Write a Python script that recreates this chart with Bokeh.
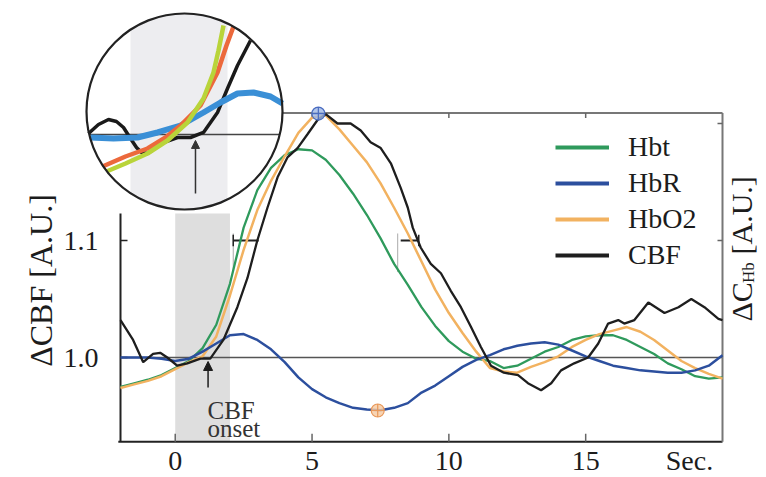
import numpy as np
from bokeh.plotting import figure
from bokeh.models import Range1d, Legend, LegendItem, Label, Arrow, NormalHead
from bokeh.core.properties import value
from bokeh.embed import file_html
from bokeh.resources import INLINE

# ---------------- data ----------------
time_s = [-2.0, -1.5, -1.0, -0.5, 0.0, 0.5, 1.0, 1.5, 2.0, 2.5, 3.0, 3.5, 4.0, 4.5,
          5.0, 5.5, 6.0, 6.5, 7.0, 7.5, 8.0, 8.5, 9.0, 9.5, 10.0, 10.5, 11.0, 11.5,
          12.0, 12.5, 13.0, 13.5, 14.0, 14.5, 15.0, 15.5, 16.0, 16.5, 17.0, 17.5,
          18.0, 18.5, 19.0, 19.5, 20.0]
hbt = [0.975, 0.978, 0.981, 0.985, 0.991, 0.997, 1.008, 1.028, 1.063, 1.111, 1.143,
       1.162, 1.173, 1.178, 1.177, 1.169, 1.156, 1.140, 1.122, 1.102, 1.080, 1.062,
       1.043, 1.027, 1.014, 1.005, 0.999, 0.997, 0.991, 0.993, 0.999, 1.005, 1.009,
       1.015, 1.018, 1.019, 1.019, 1.015, 1.009, 1.003, 0.995, 0.990, 0.984, 0.982,
       0.983]
hbr = [1.000, 1.000, 1.000, 0.999, 0.997, 0.999, 1.005, 1.012, 1.019, 1.020, 1.015,
       1.007, 0.996, 0.983, 0.973, 0.966, 0.961, 0.957, 0.9555, 0.955, 0.957, 0.961,
       0.970, 0.976, 0.984, 0.992, 0.998, 1.002, 1.007, 1.010, 1.012, 1.013, 1.011,
       1.006, 1.001, 0.997, 0.993, 0.991, 0.989, 0.988, 0.987, 0.987, 0.989, 0.993,
       1.002]
hbo2 = [0.974, 0.977, 0.980, 0.984, 0.990, 0.996, 1.001, 1.018, 1.053, 1.092, 1.126,
        1.151, 1.172, 1.192, 1.205, 1.207, 1.195, 1.181, 1.167, 1.149, 1.128, 1.106,
        1.082, 1.058, 1.038, 1.021, 1.005, 0.991, 0.988, 0.987, 0.992, 0.996, 1.001,
        1.009, 1.015, 1.020, 1.023, 1.026, 1.022, 1.015, 1.006, 0.997, 0.991, 0.986,
        0.982]
cbf_time = [-2.0, -1.54, -1.17, -0.81, -0.55, -0.29, 0.07, 0.44, 0.92, 1.28, 1.76,
            2.27, 2.64, 3.0, 3.37, 3.74, 4.1, 4.47, 4.84, 5.2, 5.5, 5.93, 6.41, 6.78,
            7.14, 7.51, 7.88, 8.24, 8.5, 8.68, 8.97, 9.34, 9.71, 10.07, 10.44, 10.81,
            11.17, 11.54, 12.01, 12.53, 12.89, 13.37, 13.74, 14.1, 14.58, 15.09,
            15.46, 15.82, 16.19, 16.41, 16.78, 17.29, 17.88, 18.39, 18.86, 19.34,
            19.85, 20.0]
cbf = [1.032, 1.015, 0.996, 1.003, 1.004, 1.000, 0.993, 0.995, 0.999, 0.999, 1.015,
       1.043, 1.068, 1.100, 1.128, 1.154, 1.171, 1.179, 1.191, 1.203, 1.208, 1.200,
       1.200, 1.194, 1.184, 1.179, 1.166, 1.145, 1.128, 1.111, 1.094, 1.080, 1.072,
       1.057, 1.043, 1.026, 1.009, 0.993, 0.987, 0.985, 0.978, 0.972, 0.978, 0.989,
       0.995, 1.000, 1.012, 1.029, 1.032, 1.029, 1.032, 1.047, 1.038, 1.043, 1.050,
       1.043, 1.033, 1.032]

stim_window = [0.0, 2.0]
onset_time = 1.2
hbo2_peak_t, hbo2_peak_v = [5.23], [1.2085]
hbr_trough_t, hbr_trough_v = [7.4], [0.9547]
half_level = 1.1
half_rise = [2.12, 3.05]
half_fall = [8.24, 8.90]
half_guides = [2.12, 8.13]

x_ticks = [0, 5, 10, 15]
x_tick_labels = ["0", "5", "10", "15"]
y_ticks = [1.0, 1.1]
y_tick_labels = ["1.0", "1.1"]
right_ticks = [1.1, 1.2]
top_ticks = [5, 10, 15]
series_names = ["Hbt", "HbR", "HbO2", "CBF"]

# magnified inset of the onset window (same units: s, ratio)
inset_hbt_t = [-0.495, -0.103, 0.351, 0.763, 1.175, 1.505, 1.711, 1.814, 1.918]
inset_hbt = [0.98195, 0.98585, 0.99073, 0.99707, 1.00585, 1.01756, 1.03024, 1.04098, 1.05317]
inset_hbo2_t = [-0.577, -0.103, 0.351, 0.722, 1.031, 1.443, 1.794, 1.979, 2.124]
inset_hbo2 = [0.98439, 0.98927, 0.99317, 0.99854, 1.00439, 1.01415, 1.03024, 1.04341, 1.05268]
inset_hbr_t = [-0.825, -0.351, 0.144, 0.557, 1.031, 1.505, 1.856, 2.206, 2.536, 2.887, 3.134]
inset_hbr = [0.99854, 0.99805, 0.99854, 1.00098, 1.00439, 1.01073, 1.01561, 1.02, 1.02049, 1.01854, 1.01512]
inset_cbf_t = [-0.866, -0.66, -0.454, -0.289, -0.144, 0.0, 0.124, 0.227, 0.351, 0.68,
               0.969, 1.237, 1.505, 1.794, 2.0, 2.206, 2.474]
inset_cbf = [1.00049, 1.00488, 1.00732, 1.00634, 1.00341, 0.99805, 0.99366, 0.99122,
             0.99073, 0.9961, 0.99854, 0.99854, 1.00098, 1.01073, 1.02244, 1.03366, 1.04585]
inset_onset = 1.34

# ---------------- layout geometry ----------------
W, H = 766, 477
X_MIN, X_MAX = -2.0, 20.0
Y_MIN, Y_MAX = 0.928, 1.209
FX0, FX1 = 120.0, 722.0
PX_S = (FX1 - FX0) / (X_MAX - X_MIN)
PX_U = 1170.0
Y1_PX = 357.0
SPINE_TOP = 1.123

IPX_S, IPX_U = 48.5, 2050.0
I0X, I1Y = 130.0, 134.0
C_PX, C_PY, R_PX = 184.0, 111.0, 98.0

FONT = "Liberation Serif"
INK = "#1c1c1c"
C_HBT, C_HBR, C_HBO2, C_CBF = "#2f9a5c", "#2c4f9e", "#f2b260", "#1e1e1e"


def sx(px):
    return X_MIN + (px - FX0) / PX_S


def sy(py):
    return 1 + (Y1_PX - py) / PX_U


p = figure(width=W, height=H,
           x_range=Range1d(X_MIN - FX0 / PX_S, X_MAX + (W - FX1) / PX_S),
           y_range=Range1d(1 - (H - Y1_PX) / PX_U, 1 + Y1_PX / PX_U),
           x_axis_type=None, y_axis_type=None, output_backend="svg",
           toolbar_location=None, min_border=0, outline_line_color=None)
p.extra_x_ranges = {"ix": Range1d(-I0X / IPX_S, (W - I0X) / IPX_S)}
p.extra_y_ranges = {"iy": Range1d(1 - (H - I1Y) / IPX_U, 1 + I1Y / IPX_U)}

# stimulus band
p.quad(left=[stim_window[0]], right=[stim_window[1]], bottom=[Y_MIN], top=[SPINE_TOP],
       fill_color="#dedede", line_color=None)

# frame
p.segment(x0=[X_MIN], y0=[1.0], x1=[X_MAX], y1=[1.0], line_color="#555555", line_width=1.5)
p.segment(x0=[X_MIN - 0.08], y0=[Y_MIN], x1=[X_MAX], y1=[Y_MIN], line_color="#222222", line_width=2)
p.segment(x0=[X_MIN], y0=[Y_MIN], x1=[X_MIN], y1=[SPINE_TOP], line_color="#222222", line_width=2)
p.segment(x0=[X_MAX], y0=[Y_MIN], x1=[X_MAX], y1=[Y_MAX], line_color="#777777", line_width=2)
p.segment(x0=[3.93], y0=[Y_MAX], x1=[X_MAX], y1=[Y_MAX], line_color="#777777", line_width=2)

# ticks
p.segment(x0=[X_MIN] * len(y_ticks), y0=y_ticks, x1=[X_MIN + 7 / PX_S] * len(y_ticks), y1=y_ticks,
          line_color="#222222", line_width=1.5)
p.segment(x0=x_ticks, y0=[Y_MIN] * len(x_ticks), x1=x_ticks, y1=[Y_MIN + 8 / PX_U] * len(x_ticks),
          line_color="#666666", line_width=1.5)
p.segment(x0=top_ticks, y0=[Y_MAX] * len(top_ticks), x1=top_ticks, y1=[Y_MAX - 5 / PX_U] * len(top_ticks),
          line_color="#666666", line_width=1.5)
p.segment(x0=[X_MAX] * len(right_ticks), y0=right_ticks, x1=[X_MAX - 5 / PX_S] * len(right_ticks),
          y1=right_ticks, line_color="#666666", line_width=1.5)

# tick labels
p.text(x=[X_MIN - 22 / PX_S] * len(y_ticks), y=y_ticks, text=y_tick_labels,
       text_font=value(FONT), text_font_size=value("28px"), text_color=INK,
       text_align="right", text_baseline="middle")
p.text(x=x_ticks, y=[sy(460)] * len(x_ticks), text=x_tick_labels,
       text_font=value(FONT), text_font_size=value("28px"), text_color=INK,
       text_align="center", text_baseline="middle")
p.text(x=[sx(689)], y=[sy(460)], text=["Sec."],
       text_font=value(FONT), text_font_size=value("28px"), text_color=INK,
       text_align="center", text_baseline="middle")

# half-maximum delay markers
p.segment(x0=[half_rise[0], half_fall[0]], y0=[half_level] * 2, x1=[half_rise[1], half_fall[1]],
          y1=[half_level] * 2, line_color="#222222", line_width=2)
p.segment(x0=half_guides, y0=[1.073] * 2, x1=half_guides, y1=[1.106] * 2,
          line_color="#aaaaaa", line_width=1)
p.segment(x0=[half_rise[0], half_fall[1]], y0=[1.095] * 2, x1=[half_rise[0], half_fall[1]],
          y1=[1.105] * 2, line_color="#222222", line_width=1.5)

# main curves
p.line(time_s, hbt, line_color=C_HBT, line_width=2.3)
p.line(time_s, hbo2, line_color=C_HBO2, line_width=2.5)
p.line(time_s, hbr, line_color=C_HBR, line_width=2.5)
p.line(cbf_time, cbf, line_color=C_CBF, line_width=2.3)

p.scatter(hbo2_peak_t, hbo2_peak_v, marker="circle_cross", size=13,
          fill_color="#9fb8e6", fill_alpha=0.8, line_color="#4a6cc0", line_width=1.2)
p.scatter(hbr_trough_t, hbr_trough_v, marker="circle_cross", size=13,
          fill_color="#f6c9a0", fill_alpha=0.8, line_color="#e8985a", line_width=1.2)

# onset arrow + label
p.add_layout(Arrow(end=NormalHead(size=9, fill_color=INK, line_color=INK),
                   x_start=onset_time, y_start=0.9744, x_end=onset_time, y_end=0.9966,
                   line_color=INK, line_width=1.5))
p.add_layout(Label(x=sx(207), y=sy(410), text="CBF", text_font=FONT, text_font_size="25px",
                   text_color="#333333", text_baseline="alphabetic"))
p.add_layout(Label(x=sx(207), y=sy(428), text="onset", text_font=FONT, text_font_size="25px",
                   text_color="#333333", text_baseline="alphabetic"))

# ---------------- inset ----------------
ct = (C_PX - I0X) / IPX_S
cv = 1 + (I1Y - C_PY) / IPX_U
p.scatter([ct], [cv], marker="circle", size=2 * R_PX, fill_color="white", line_color=None,
          x_range_name="ix", y_range_name="iy")
bt = np.linspace(stim_window[0], stim_window[1], 60)
half = np.sqrt(np.clip(R_PX ** 2 - ((bt - ct) * IPX_S) ** 2, 0, None)) / IPX_U
p.patch(np.concatenate([bt, bt[::-1]]), np.concatenate([cv + half, (cv - half)[::-1]]),
        fill_color="#ededf0", line_color=None, x_range_name="ix", y_range_name="iy")
bdx = np.sqrt(R_PX ** 2 - ((1.0 - cv) * IPX_U) ** 2) / IPX_S
p.segment(x0=[ct - bdx], y0=[1.0], x1=[ct + bdx], y1=[1.0], line_color="#444444", line_width=1.5,
          x_range_name="ix", y_range_name="iy")
p.line(inset_cbf_t, inset_cbf, line_color="#1a1a1a", line_width=3.5, x_range_name="ix", y_range_name="iy")
p.line(inset_hbr_t, inset_hbr, line_color="#3a8fd6", line_width=6, x_range_name="ix", y_range_name="iy")
p.line(inset_hbo2_t, inset_hbo2, line_color="#ec693c", line_width=4.5, x_range_name="ix", y_range_name="iy")
p.line(inset_hbt_t, inset_hbt, line_color="#b9d43a", line_width=4.5, x_range_name="ix", y_range_name="iy")
p.add_layout(Arrow(end=NormalHead(size=8, fill_color="#333333", line_color="#333333"),
                   x_start=inset_onset, y_start=0.9712, x_end=inset_onset, y_end=0.9971,
                   line_color="#333333", line_width=1.5, x_range_name="ix", y_range_name="iy"))
p.scatter([ct], [cv], marker="circle", size=2 * R_PX, fill_color=None, line_color="#222222",
          line_width=2.2, x_range_name="ix", y_range_name="iy")

# ---------------- axis titles ----------------
p.add_layout(Label(x=sx(40), y=sy(280), text="\u0394CBF [A.U.]", angle=np.pi / 2,
                   text_font=FONT, text_font_size="32px", text_color=INK,
                   text_align="center", text_baseline="middle"))
p.add_layout(Label(x=sx(741), y=sy(321), text="\u0394C", angle=np.pi / 2,
                   text_font=FONT, text_font_size="30px", text_color=INK,
                   text_align="left", text_baseline="middle"))
p.add_layout(Label(x=sx(748), y=sy(282.6), text="Hb", angle=np.pi / 2,
                   text_font=FONT, text_font_size="17px", text_color=INK,
                   text_align="left", text_baseline="middle"))
p.add_layout(Label(x=sx(741), y=sy(254), text="[A.U.]", angle=np.pi / 2,
                   text_font=FONT, text_font_size="30px", text_color=INK,
                   text_align="left", text_baseline="middle"))

# ---------------- legend ----------------
leg_colors = [C_HBT, C_HBR, C_HBO2, C_CBF]
nan = float("nan")
items = []
for name, col in zip(series_names, leg_colors):
    r = p.line(x=[nan, nan], y=[nan, nan], line_color=col, line_width=4)
    items.append(LegendItem(label=name, renderers=[r]))
legend = Legend(items=items, location=(555, H - 271), orientation="vertical",
                border_line_color=None, background_fill_alpha=0, padding=0, margin=0,
                spacing=4, glyph_width=54, glyph_height=20, label_height=32,
                label_standoff=19, label_text_font=FONT, label_text_font_size="28px",
                label_text_color=INK)
p.add_layout(legend)

open("out.html", "w").write(file_html(p, INLINE))
